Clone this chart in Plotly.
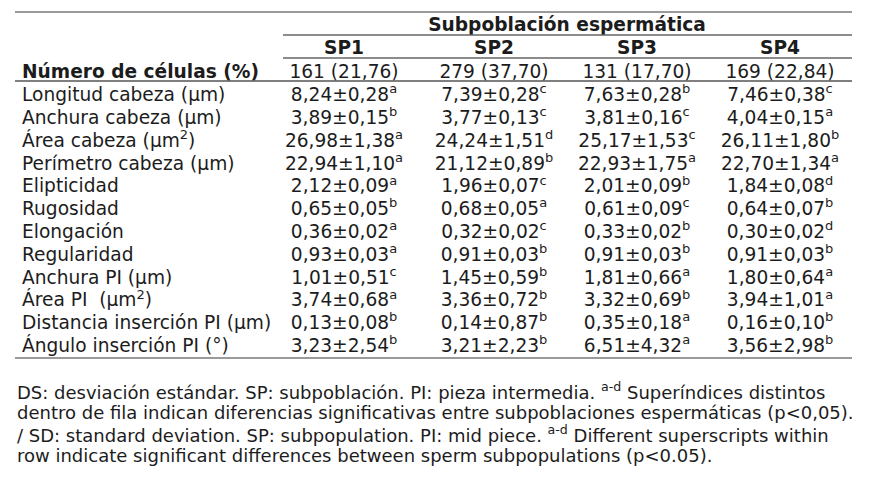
import plotly.graph_objects as go

# table contents
row_labels = [
    "Longitud cabeza (µm)", "Anchura cabeza (µm)", "Área cabeza (µm<sup>2</sup>)",
    "Perímetro cabeza (µm)", "Elipticidad", "Rugosidad", "Elongación", "Regularidad",
    "Anchura PI (µm)", "Área PI  (µm<sup>2</sup>)", "Distancia inserción PI (µm)",
    "Ángulo inserción PI (°)",
]
subpops = ["SP1", "SP2", "SP3", "SP4"]
n_cells = ["161", "279", "131", "169"]
pct_cells = ["21,76", "37,70", "17,70", "22,84"]

sp1_mean = ["8,24", "3,89", "26,98", "22,94", "2,12", "0,65", "0,36", "0,93", "1,01", "3,74", "0,13", "3,23"]
sp1_sd = ["0,28", "0,15", "1,38", "1,10", "0,09", "0,05", "0,02", "0,03", "0,51", "0,68", "0,08", "2,54"]
sp1_sup = ["a", "b", "a", "a", "a", "b", "a", "a", "c", "a", "b", "b"]

sp2_mean = ["7,39", "3,77", "24,24", "21,12", "1,96", "0,68", "0,32", "0,91", "1,45", "3,36", "0,14", "3,21"]
sp2_sd = ["0,28", "0,13", "1,51", "0,89", "0,07", "0,05", "0,02", "0,03", "0,59", "0,72", "0,87", "2,23"]
sp2_sup = ["c", "c", "d", "b", "c", "a", "c", "b", "b", "b", "b", "b"]

sp3_mean = ["7,63", "3,81", "25,17", "22,93", "2,01", "0,61", "0,33", "0,91", "1,81", "3,32", "0,35", "6,51"]
sp3_sd = ["0,28", "0,16", "1,53", "1,75", "0,09", "0,09", "0,02", "0,03", "0,66", "0,69", "0,18", "4,32"]
sp3_sup = ["b", "c", "c", "a", "b", "c", "b", "b", "a", "b", "a", "a"]

sp4_mean = ["7,46", "4,04", "26,11", "22,70", "1,84", "0,64", "0,30", "0,91", "1,80", "3,94", "0,16", "3,56"]
sp4_sd = ["0,38", "0,15", "1,80", "1,34", "0,08", "0,07", "0,02", "0,03", "0,64", "1,01", "0,10", "2,98"]
sp4_sup = ["c", "a", "b", "a", "d", "b", "d", "b", "a", "a", "b", "b"]

footnote = [
    "DS: desviación estándar. SP: subpoblación. PI: pieza intermedia. <sup>a-d</sup> Superíndices distintos",
    "dentro de fila indican diferencias significativas entre subpoblaciones espermáticas (p<0,05).",
    "/ SD: standard deviation. SP: subpopulation. PI: mid piece. <sup>a-d</sup> Different superscripts within",
    "row indicate significant differences between sperm subpopulations (p<0.05).",
]

means = [sp1_mean, sp2_mean, sp3_mean, sp4_mean]
sds = [sp1_sd, sp2_sd, sp3_sd, sp4_sd]
sups = [sp1_sup, sp2_sup, sp3_sup, sp4_sup]

# layout constants (pixel space; page body has an 8px margin)
W, H = 882, 479
OFF = 8
col_x = [344, 494, 637, 780]
label_x = 22
row0_y = 96.5
row_step = 22.8
font_tab = "DejaVu Sans, Verdana, sans-serif"
fsize = 18.6
txt_color = "#1c1c1c"


def text_trace(x, y, text, pos="middle center"):
    return go.Scatter(x=x, y=y, text=text, mode="text", textposition=pos,
                      textfont=dict(family=font_tab, size=fsize, color=txt_color),
                      hoverinfo="skip", showlegend=False)


fig = go.Figure()

# body cells
cx, cy, ct = [], [], []
for j in range(len(subpops)):
    for i in range(len(row_labels)):
        cx.append(col_x[j])
        cy.append(row0_y + i * row_step)
        ct.append(f"{means[j][i]}±{sds[j][i]}<sup>{sups[j][i]}</sup>")
fig.add_trace(text_trace(cx, cy, ct))

# row labels
fig.add_trace(text_trace([label_x] * len(row_labels),
                         [row0_y + i * row_step for i in range(len(row_labels))],
                         row_labels, pos="middle right"))

# number of cells row
fig.add_trace(text_trace(col_x, [73] * 4,
                         [f"{n} ({p})" for n, p in zip(n_cells, pct_cells)]))
fig.add_trace(text_trace([label_x], [73], ["<b>Número de células (%)</b>"], pos="middle right"))

# headers
fig.add_trace(text_trace(col_x, [49.5] * 4, [f"<b>{s}</b>" for s in subpops]))
fig.add_trace(text_trace([567], [26.5], ["<b>Subpoblación espermática</b>"]))

# rules
for x0, y0, w, c in [(15, 12, 2, "#9a9a9a"), (283, 35, 1.3, "#666666"), (283, 58, 1.3, "#666666"),
                     (15, 81, 1.3, "#555555"), (15, 358, 2, "#9a9a9a")]:
    fig.add_shape(type="line", x0=x0, x1=852, y0=y0, y1=y0, line=dict(color=c, width=w))

# footnote
for k, line in enumerate(footnote):
    fig.add_annotation(x=15, y=391 + k * 21.4, text=line, showarrow=False,
                       xanchor="left", yanchor="middle",
                       font=dict(family="DejaVu Sans, sans-serif", size=18, color=txt_color))

fig.update_xaxes(range=[OFF, W + OFF], visible=False)
fig.update_yaxes(range=[H + OFF, OFF], visible=False)
fig.update_layout(width=W, height=H, margin=dict(l=0, r=0, t=0, b=0),
                  paper_bgcolor="white", plot_bgcolor="white")

fig.write_html("out.html")
